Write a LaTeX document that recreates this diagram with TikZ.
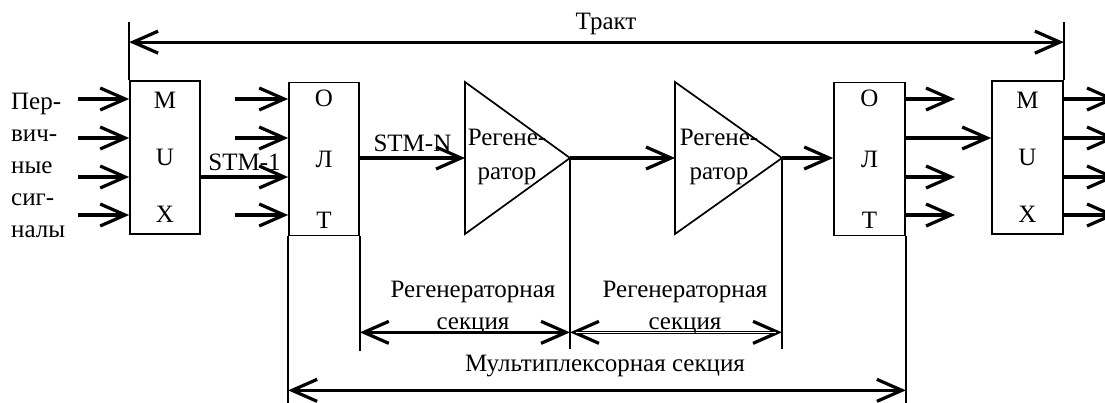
\documentclass[tikz,border=0pt]{standalone}
\usepackage{fontspec}
\setmainfont{Liberation Serif}
\usetikzlibrary{arrows.meta, positioning, calc}
\tikzset{
	block/.style={rectangle, draw, line width=1.7pt, minimum width=70pt, minimum height=153pt, inner sep=0pt, align=center, font=\fontsize{25}{57}\selectfont},
	oltblock/.style={block, font=\fontsize{25}{61}\selectfont},
	regen/.style={draw, line width=1.7pt, line join=miter},
	guide/.style={line width=1.7pt},
	sig/.style={-{Straight Barb[length=25pt, width=22pt]}, line width=3.2pt},
	span/.style={{Straight Barb[length=25pt, width=22pt]}-{Straight Barb[length=25pt, width=22pt]}, line width=3.2pt},
	hollow/.style={white, line width=1.3pt, shorten <=6pt, shorten >=6pt},
	lbl/.style={inner sep=1pt, align=center, font=\fontsize{25}{32}\selectfont},
}
\begin{document}
\begin{tikzpicture}[x=1pt, y=-1pt]
	\useasboundingbox (0,0) rectangle (1105,402);
	% blocks
	\node[block] (mux1) at (165,157.5) {M\\U\\X};
	\node[oltblock] (olt1) at (324,159) {О\\Л\\Т};
	\node[oltblock, minimum width=71pt] (olt2) at (869.5,159) {О\\Л\\Т};
	\node[block, minimum width=71pt] (mux2) at (1027.5,157.5) {M\\U\\X};
	% regenerators
	\coordinate (r1t) at (465,82); \coordinate (r1b) at (465,234); \coordinate (r1o) at (570,158);
	\coordinate (r2t) at (675,82); \coordinate (r2b) at (675,234); \coordinate (r2o) at (782,158);
	\draw[regen] (r1t) -- (r1o) -- (r1b) -- cycle;
	\draw[regen] (r2t) -- (r2o) -- (r2b) -- cycle;
	\node[lbl, font=\fontsize{25}{34}\selectfont] (reg1) at (507,157) {Регене-\\ратор};
	\node[lbl, font=\fontsize{25}{34}\selectfont] (reg2) at (719,157) {Регене-\\ратор};
	\coordinate (r1i) at (r1t |- r1o);
	\coordinate (r2i) at (r2t |- r2o);
	% primary signals
	\node[lbl, align=left, anchor=west] (prim) at (10,165) {Пер-\\вич-\\ные\\сиг-\\налы};
	\foreach \y [count=\i] in {99,138,177,215} {
		\coordinate (in\i) at (78,\y);
		\coordinate (oi\i) at (235,\y);
		\coordinate (oo\i) at (955,\y);
		\coordinate (out\i) at (1116,\y);
		\draw[sig] (in\i) -- (in\i -| mux1.west);
		\draw[sig] (mux2.east |- in\i) -- (out\i);
	}
	\foreach \i in {1,2,4} \draw[sig] (oi\i) -- (oi\i -| olt1.west);
	\foreach \i in {1,3,4} \draw[sig] (olt2.east |- oo\i) -- (oo\i);
	% line path
	\draw[sig] (mux1.east |- in3) -- (olt1.west |- in3) node[lbl, midway, above=4pt] (stm1) {STM-1};
	\draw[sig] (olt1.east |- r1o) -- (r1i) node[lbl, midway, above=4pt] (stmn) {STM-N};
	\draw[sig] (r1o) -- (r2i);
	\draw[sig] (r2o) -- (r2o -| olt2.west);
	\draw[sig] (olt2.east |- in2) -- (mux2.west |- in2);
	% tract
	\draw[guide] (mux1.north west) -- ++(0,-58);
	\draw[guide] (mux2.north east) -- ++(0,-58);
	\draw[span] ($(mux1.north west)+(0,-38)$) -- ($(mux2.north east)+(0,-38)$);
	\node[lbl] (tract) at (606,24) {Тракт};
	% sections
	\draw[guide] (olt1.south west) -- ++(0,168);
	\draw[guide] (olt2.south east) -- ++(0,168);
	\draw[guide] (olt1.south east) -- ++(0,115);
	\draw[guide] (r1o) -- ++(0,191);
	\draw[guide] (r2o) -- ++(0,191);
	\coordinate (d1) at ($(olt1.south east)+(0,96)$);
	\coordinate (d2) at (r1o |- d1);
	\coordinate (d3) at (r2o |- d1);
	\draw[span] (d1) -- (d2);
	\draw[span] (d2) -- (d3);
	\draw[hollow] (d2) -- (d3);
	\node[lbl] (sec1) at (473,308) {Регенераторная\\секция};
	\node[lbl] (sec2) at (685,308) {Регенераторная\\секция};
	\coordinate (m1) at ($(olt1.south west)+(0,154)$);
	\coordinate (m2) at (olt2.south east |- m1);
	\draw[span] (m1) -- (m2);
	\node[lbl] (mplx) at (605,366) {Мультиплексорная секция};
\end{tikzpicture}
\end{document}
